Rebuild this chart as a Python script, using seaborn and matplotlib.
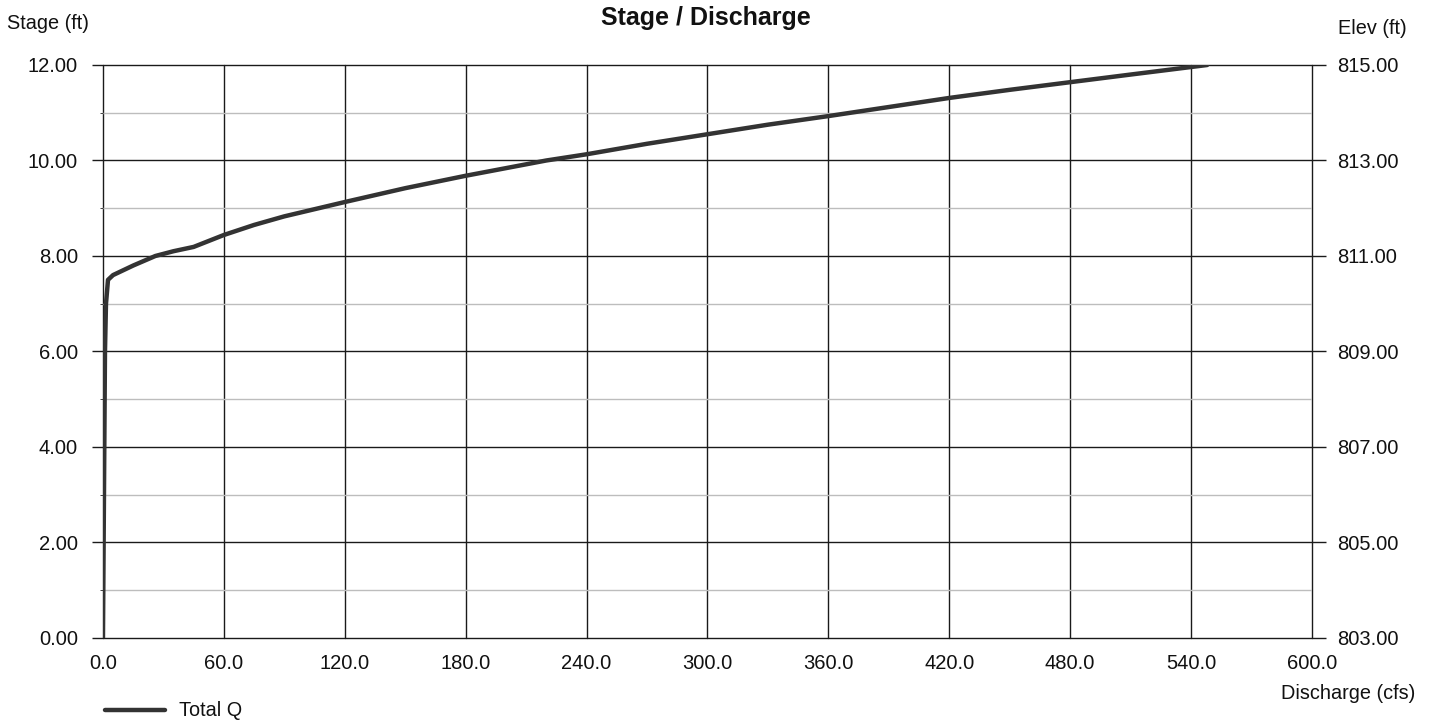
import numpy as np
import pandas as pd
import matplotlib
matplotlib.use("Agg")
import matplotlib.pyplot as plt
import seaborn as sns
from matplotlib.ticker import MultipleLocator, FixedLocator, FormatStrFormatter

# stage / discharge table
discharge = [0.0, 0.5, 1.0, 1.5, 2.5, 5.0, 8.5, 15.0, 26.0, 35.0, 45.0,
             60.0, 75.0, 90.0, 120.0, 150.0, 180.0, 220.0, 240.0, 270.0,
             300.0, 330.0, 360.0, 390.0, 420.0, 450.0, 480.0, 510.0, 548.0]
stage = [0.0, 3.0, 6.0, 7.0, 7.5, 7.6, 7.67, 7.8, 8.0, 8.1, 8.19,
         8.44, 8.65, 8.83, 9.13, 9.42, 9.68, 10.0, 10.13, 10.35,
         10.55, 10.75, 10.93, 11.12, 11.31, 11.48, 11.64, 11.8, 12.0]
minor_stage = [1, 3, 5, 7, 9, 11]
elev_ticks = [803.0, 805.0, 807.0, 809.0, 811.0, 813.0, 815.0]

df = pd.DataFrame({"Discharge": discharge, "Stage": stage, "series": "Total Q"})

sns.set_style("white")
plt.rcParams["font.family"] = ["Liberation Sans", "DejaVu Sans"]

fig = plt.figure(figsize=(14.34, 7.23), dpi=100)
ax = fig.add_axes([0.0718, 0.1176, 0.8431, 0.7925])

sns.lineplot(data=df, x="Discharge", y="Stage", hue="series", sort=False,
             palette=["#333333"], linewidth=3.2, ax=ax, zorder=5)

ax.set_xlim(0, 600)
ax.set_ylim(0, 12)
ax.xaxis.set_major_locator(MultipleLocator(60))
ax.xaxis.set_major_formatter(FormatStrFormatter("%.1f"))
ax.yaxis.set_major_locator(MultipleLocator(2))
ax.yaxis.set_minor_locator(FixedLocator(minor_stage))
ax.yaxis.set_major_formatter(FormatStrFormatter("%.2f"))

ax.grid(True, which="minor", axis="y", color="#bdbdbd", linewidth=1.0)
ax.grid(True, which="major", axis="both", color="#1a1a1a", linewidth=1.0)
for s in ax.spines.values():
    s.set_visible(False)
for ln in ax.get_xgridlines() + ax.get_ygridlines():
    ln.set_clip_on(False)

ax.tick_params(axis="y", which="major", left=True, length=8, width=1,
               color="#1a1a1a", labelsize=14.5, pad=10, labelcolor="#111111")
ax.tick_params(axis="y", which="minor", left=False)
ax.tick_params(axis="x", bottom=False, labelsize=14.5, pad=8, labelcolor="#111111")
ax.set_xlabel("")
ax.set_ylabel("")

# right elevation axis
ax2 = ax.twinx()
ax2.set_ylim(elev_ticks[0], elev_ticks[-1])
ax2.yaxis.set_major_locator(FixedLocator(elev_ticks))
ax2.yaxis.set_major_formatter(FormatStrFormatter("%.2f"))
ax2.tick_params(axis="y", right=True, length=10, width=1, color="#1a1a1a",
                labelsize=14.5, pad=8, labelcolor="#111111")
for s in ax2.spines.values():
    s.set_visible(False)
ax2.grid(False)

fig.text(0.4925, 0.975, "Stage / Discharge", ha="center", va="center",
         fontsize=18, fontweight="bold", color="#111111")
fig.text(0.005, 0.968, "Stage (ft)", ha="left", va="center", fontsize=14.3,
         color="#111111")
fig.text(0.933, 0.961, "Elev (ft)", ha="left", va="center", fontsize=14.3,
         color="#111111")
fig.text(0.987, 0.041, "Discharge (cfs)", ha="right", va="center",
         fontsize=14.3, color="#111111")

ax.legend(loc="upper left", bbox_to_anchor=(-0.008, -0.09), frameon=False,
          fontsize=14.3, handlelength=3.0, handletextpad=0.7,
          labelcolor="#111111", borderaxespad=0.2)

fig.savefig("out.png", dpi=100)
